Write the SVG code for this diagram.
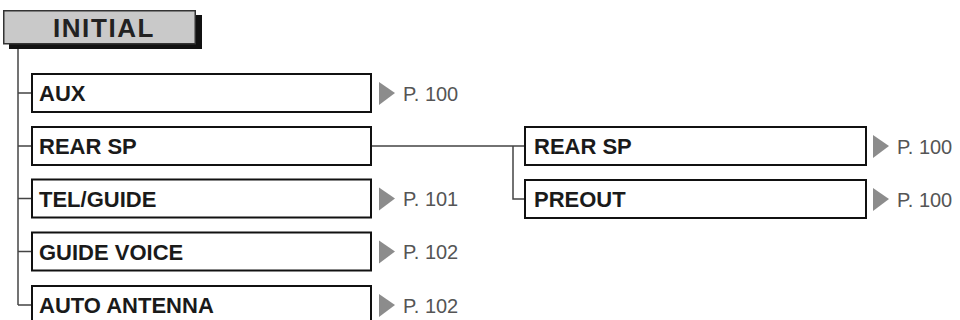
<svg xmlns="http://www.w3.org/2000/svg" width="960" height="320" viewBox="0 0 960 320">
<defs>
<style>
.box{fill:#fff;stroke:#111;stroke-width:2}
.lbl{font-family:"Liberation Sans",Arial,sans-serif;font-weight:bold;font-size:22px;fill:#1a1a1a}
.pg{font-family:"Liberation Sans",Arial,sans-serif;font-size:20px;fill:#555}
.tri{fill:#8c8c8c}
.ln{fill:none;stroke:#444;stroke-width:1.5}
</style>
</defs>
<rect width="960" height="320" fill="#fff"/>
<g id="connectors">
<path class="ln" d="M18,49 V305"/>
<path class="ln" d="M18,93 H32 M18,146 H32 M18,198.5 H32 M18,251.5 H32 M18,305 H32"/>
<path class="ln" d="M371,146 H525 M513,146 V199 H525"/>
</g>
<g id="initial">
<rect x="9" y="15" width="193" height="34" fill="#111"/>
<rect x="3.75" y="10.75" width="191.5" height="33" fill="#c9c9c9" stroke="#333" stroke-width="1.5"/>
<text x="104" y="36.5" text-anchor="middle" font-family="'Liberation Sans',Arial,sans-serif" font-weight="bold" font-size="26" letter-spacing="1.6" fill="#222">INITIAL</text>
</g>
<g id="aux">
<rect class="box" x="32" y="74" width="339" height="38"/>
<text class="lbl" x="39" y="101">AUX</text>
<polygon class="tri" points="379,82 395,93 379,105"/>
<text class="pg" x="403" y="100.5">P. 100</text>
</g>
<g id="rearsp">
<rect class="box" x="32" y="127" width="339" height="38"/>
<text class="lbl" x="39" y="154">REAR SP</text>
</g>
<g id="telguide">
<rect class="box" x="32" y="179.5" width="339" height="38"/>
<text class="lbl" x="39" y="206.5">TEL/GUIDE</text>
<polygon class="tri" points="379,187.5 395,198.5 379,210.5"/>
<text class="pg" x="403" y="206">P. 101</text>
</g>
<g id="guidevoice">
<rect class="box" x="32" y="232.5" width="339" height="38"/>
<text class="lbl" x="39" y="259.5">GUIDE VOICE</text>
<polygon class="tri" points="379,240.5 395,251.5 379,263.5"/>
<text class="pg" x="403" y="259">P. 102</text>
</g>
<g id="autoantenna">
<rect class="box" x="32" y="286" width="339" height="38"/>
<text class="lbl" x="39" y="313">AUTO ANTENNA</text>
<polygon class="tri" points="379,294 395,305 379,317"/>
<text class="pg" x="403" y="312.5">P. 102</text>
</g>
<g id="rearsp2">
<rect class="box" x="525" y="127" width="341" height="38"/>
<text class="lbl" x="534" y="154">REAR SP</text>
<polygon class="tri" points="873,135 889,146 873,158"/>
<text class="pg" x="897" y="153.5">P. 100</text>
</g>
<g id="preout">
<rect class="box" x="525" y="180" width="341" height="38"/>
<text class="lbl" x="534" y="207">PREOUT</text>
<polygon class="tri" points="873,188 889,199 873,211"/>
<text class="pg" x="897" y="206.5">P. 100</text>
</g>
</svg>
